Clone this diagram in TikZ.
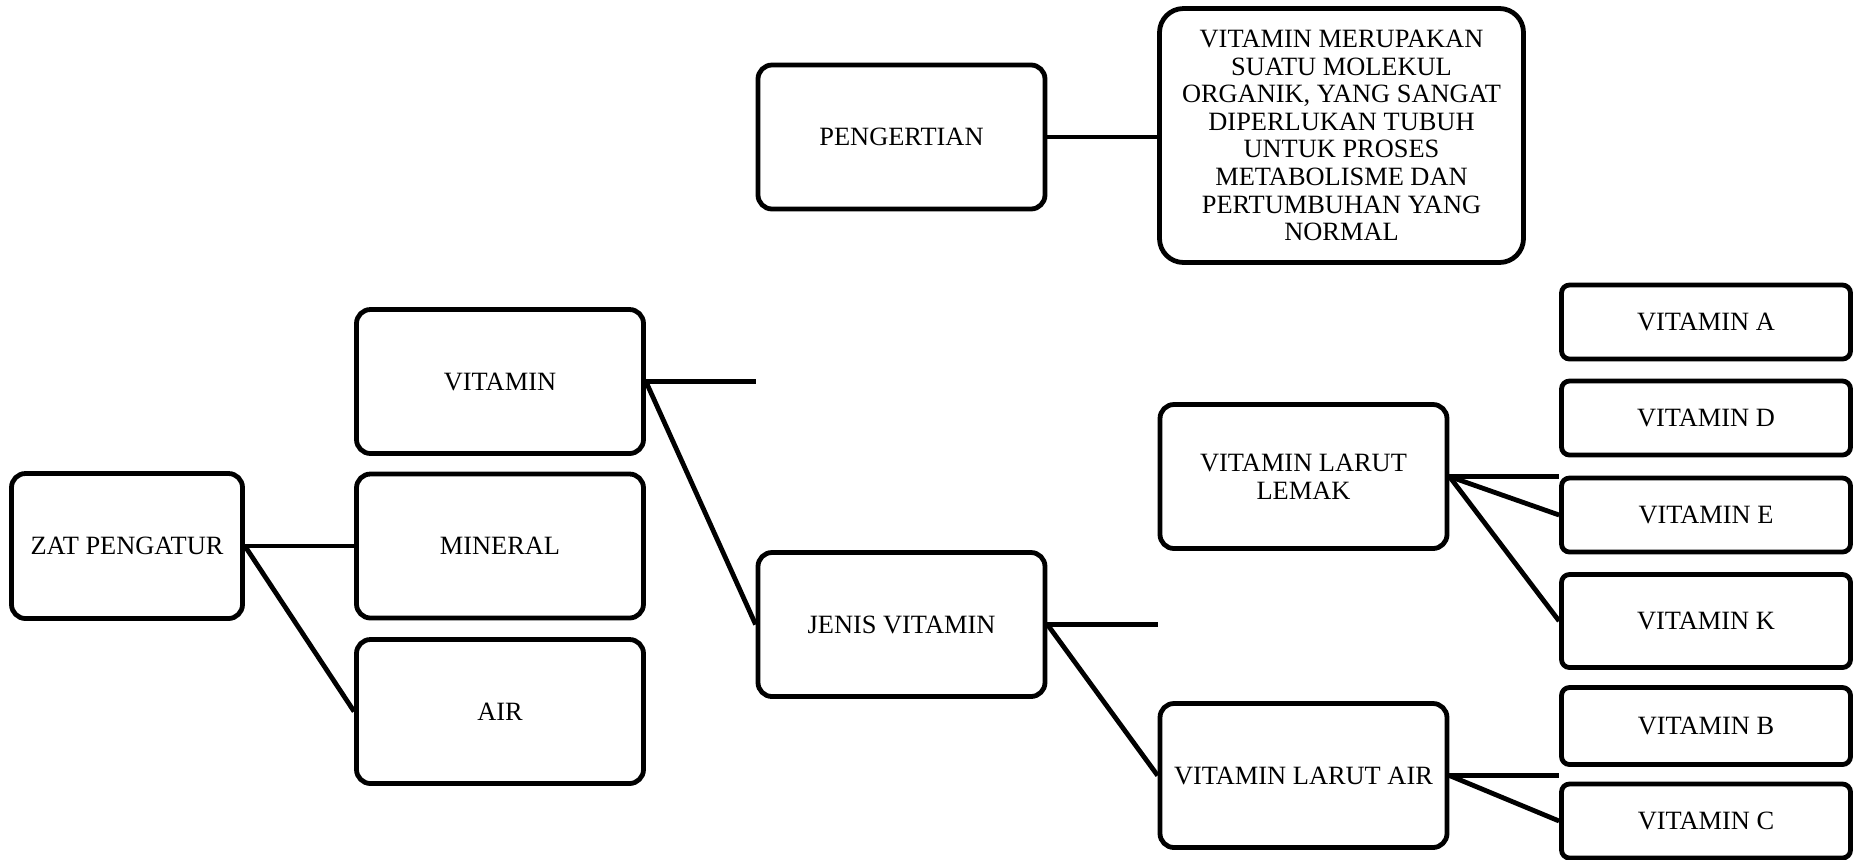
\documentclass[tikz,border=0pt]{standalone}
\usepackage{fontspec}
\setmainfont{Liberation Serif}
\begin{document}
\begin{tikzpicture}[x=0.5pt, y=-0.5pt,
  box/.style={draw, line width=2.4pt, align=center, inner sep=0pt,
    font=\fontsize{13.2}{13.8}\selectfont},
  bigbox/.style={box, rounded corners=7pt, minimum width=143.5pt, minimum height=72pt},
  smallbox/.style={box, rounded corners=4pt, minimum width=144.5pt, minimum height=37pt},
  link/.style={line width=2.4pt}]
\useasboundingbox (0,0) rectangle (1854,859);

% left branch
\node[bigbox, minimum width=115.5pt, minimum height=72.5pt] (zat) at (127,546) {ZAT PENGATUR};
\node[bigbox] (vit) at (500,381.5) {VITAMIN};
\node[bigbox] (min) at (500,546) {MINERAL};
\node[bigbox] (air) at (500,711.5) {AIR};

% middle column
\node[bigbox] (peng) at (901.5,137) {PENGERTIAN};
\node[bigbox] (jenis) at (901.5,624.5) {JENIS VITAMIN};

% definition
\node[box, rounded corners=12pt, minimum width=182pt, minimum height=127pt] (def) at (1341.5,135.5)
  {VITAMIN MERUPAKAN\\ SUATU MOLEKUL\\ ORGANIK, YANG SANGAT\\ DIPERLUKAN TUBUH\\ UNTUK PROSES\\ METABOLISME DAN\\ PERTUMBUHAN YANG\\ NORMAL};

% vitamin groups
\node[bigbox] (lemak) at (1303.5,476.5) {VITAMIN LARUT\\ LEMAK};
\node[bigbox] (larair) at (1303.5,775.5) {VITAMIN LARUT AIR};

% single vitamins
\node[smallbox] (va) at (1706,322) {VITAMIN A};
\node[smallbox] (vd) at (1706,418) {VITAMIN D};
\node[smallbox] (ve) at (1706,515) {VITAMIN E};
\node[smallbox, minimum height=46.5pt] (vk) at (1706,621) {VITAMIN K};
\node[smallbox, minimum height=38.5pt] (vb) at (1706,726) {VITAMIN B};
\node[smallbox] (vc) at (1706,821) {VITAMIN C};

% free line ends, level with the next column
\coordinate (vitend) at (vit.east -| jenis.west);
\coordinate (jenisend) at (jenis.east -| larair.west);
\coordinate (lemakend) at (lemak.east -| ve.west);
\coordinate (larairend) at (larair.east -| vc.west);

% connectors
\draw[link] (zat.east) -- (min.west);
\draw[link] (zat.east) -- (air.west);
\draw[link] (vit.east) -- (vitend);
\draw[link] (vit.east) -- (jenis.west);
\draw[link] (peng.east) -- (def.west |- peng.east);
\draw[link] (jenis.east) -- (jenisend);
\draw[link] (jenis.east) -- (larair.west);
\draw[link] (lemak.east) -- (lemakend);
\draw[link] (lemak.east) -- (ve.west);
\draw[link] (lemak.east) -- (vk.west);
\draw[link] (larair.east) -- (larairend);
\draw[link] (larair.east) -- (vc.west);
\end{tikzpicture}
\end{document}
